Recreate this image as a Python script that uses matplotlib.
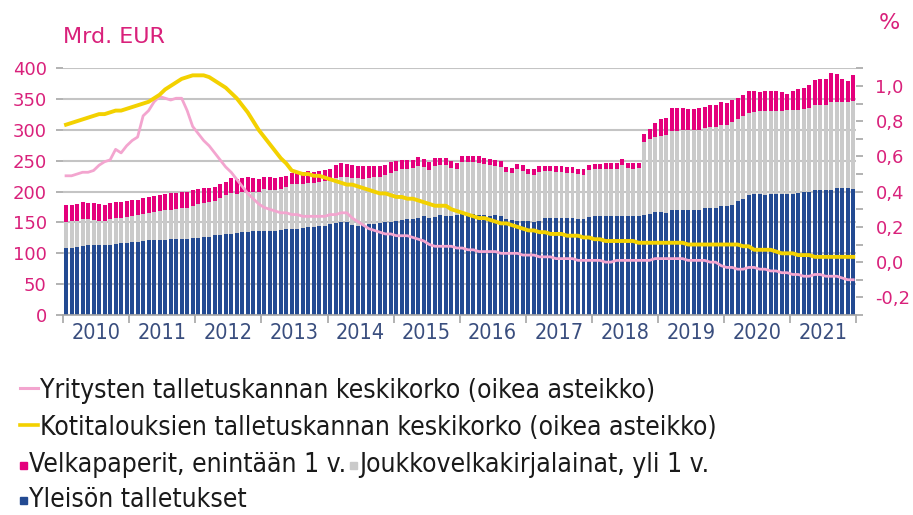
import numpy as np
import matplotlib.pyplot as plt
from matplotlib.lines import Line2D
from matplotlib.patches import Rectangle
from matplotlib.ticker import MultipleLocator, FixedLocator, FuncFormatter

# kuukausittain 1/2010 - 12/2021, mrd. euroa
yleison_talletukset = [
    108, 109, 110, 112, 113, 113, 113, 114, 114, 115, 116, 116,
    118, 119, 120, 121, 121, 122, 122, 123, 123, 124, 124, 125,
    125, 126, 127, 129, 130, 131, 131, 133, 134, 135, 136, 137,
    136, 137, 137, 138, 139, 139, 140, 141, 142, 143, 144, 145,
    147, 149, 151, 150, 146, 145, 146, 147, 148, 149, 150, 151,
    153, 154, 155, 156, 158, 161, 158, 159, 162, 160, 160, 162,
    164, 163, 163, 162, 162, 161, 162, 160, 155, 154, 153, 153,
    152, 150, 153, 157, 158, 158, 158, 158, 157, 156, 156, 159,
    160, 160, 160, 160, 160, 160, 160, 161, 160, 162, 164, 167,
    167, 165, 170, 170, 170, 170, 171, 171, 173, 174, 174, 176,
    177, 178, 185, 188, 195, 197, 196, 195, 196, 196, 196, 197,
    197, 198, 199, 200, 202, 203, 203, 202, 206, 206, 206, 205,
]
joukkovelkakirjat = [
    43, 43, 43, 43, 42, 41, 40, 38, 41, 42, 42, 43,
    43, 43, 43, 44, 46, 47, 48, 48, 49, 49, 50, 52,
    55, 56, 56, 56, 60, 63, 67, 64, 65, 65, 64, 63,
    68, 66, 66, 67, 68, 73, 73, 72, 72, 71, 71, 72,
    71, 73, 72, 73, 76, 77, 75, 75, 75, 75, 77, 80,
    81, 82, 81, 82, 84, 79, 77, 83, 81, 83, 79, 74,
    84, 85, 85, 85, 83, 83, 80, 80, 77, 76, 83, 81,
    76, 77, 79, 76, 75, 74, 74, 73, 74, 72, 71, 76,
    76, 76, 77, 77, 77, 83, 78, 76, 78, 119, 121, 121,
    123, 127, 128, 129, 130, 130, 129, 129, 130, 131, 131, 132,
    131, 135, 133, 135, 133, 132, 134, 135, 134, 135, 135, 135,
    135, 135, 135, 136, 138, 137, 138, 144, 140, 140, 140, 142,
]
velkapaperit = [
    27, 27, 27, 28, 27, 27, 27, 26, 26, 26, 26, 26,
    25, 25, 26, 26, 26, 26, 26, 27, 26, 26, 26, 25,
    24, 24, 23, 23, 22, 22, 24, 23, 23, 23, 22, 21,
    20, 20, 19, 19, 18, 19, 19, 19, 19, 18, 18, 18,
    18, 22, 23, 22, 21, 20, 20, 19, 18, 18, 17, 17,
    16, 15, 15, 14, 14, 13, 13, 12, 12, 11, 11, 10,
    9, 9, 10, 10, 9, 9, 9, 9, 8, 8, 9, 9,
    9, 9, 9, 9, 9, 9, 9, 9, 9, 9, 9, 9,
    9, 9, 9, 9, 10, 10, 9, 9, 9, 13, 16, 23,
    27, 28, 37, 36, 35, 34, 34, 35, 35, 35, 35, 38,
    35, 35, 34, 34, 36, 34, 32, 33, 33, 32, 31, 26,
    32, 33, 34, 37, 41, 42, 41, 47, 45, 36, 34, 42,
]
# %, oikea asteikko
yritysten_korko = [
    0.49, 0.49, 0.50, 0.51, 0.51, 0.52, 0.55, 0.57, 0.58, 0.64, 0.62, 0.66,
    0.69, 0.71, 0.83, 0.86, 0.91, 0.94, 0.93, 0.92, 0.93, 0.93, 0.86, 0.77,
    0.73, 0.69, 0.66, 0.62, 0.58, 0.54, 0.51, 0.47, 0.43, 0.39, 0.36, 0.33,
    0.31, 0.30, 0.29, 0.28, 0.28, 0.27, 0.27, 0.26, 0.26, 0.26, 0.26, 0.26,
    0.27, 0.27, 0.28, 0.28, 0.25, 0.23, 0.21, 0.19, 0.18, 0.17, 0.16, 0.16,
    0.15, 0.15, 0.15, 0.14, 0.13, 0.12, 0.10, 0.09, 0.09, 0.09, 0.09, 0.08,
    0.08, 0.07, 0.07, 0.06, 0.06, 0.06, 0.06, 0.05, 0.05, 0.05, 0.05, 0.04,
    0.04, 0.04, 0.03, 0.03, 0.03, 0.02, 0.02, 0.02, 0.02, 0.01, 0.01, 0.01,
    0.01, 0.01, 0.00, 0.00, 0.01, 0.01, 0.01, 0.01, 0.01, 0.01, 0.01, 0.02,
    0.02, 0.02, 0.02, 0.02, 0.02, 0.01, 0.01, 0.01, 0.01, 0.00, 0.00, -0.02,
    -0.03, -0.03, -0.04, -0.04, -0.03, -0.03, -0.04, -0.04, -0.05, -0.05, -0.06, -0.06,
    -0.07, -0.07, -0.08, -0.08, -0.07, -0.07, -0.08, -0.08, -0.08, -0.09, -0.10, -0.10,
]
kotitalouksien_korko = [
    0.78, 0.79, 0.80, 0.81, 0.82, 0.83, 0.84, 0.84, 0.85, 0.86, 0.86, 0.87,
    0.88, 0.89, 0.90, 0.91, 0.93, 0.95, 0.98, 1.00, 1.02, 1.04, 1.05, 1.06,
    1.06, 1.06, 1.05, 1.03, 1.01, 0.99, 0.96, 0.93, 0.89, 0.85, 0.80, 0.75,
    0.71, 0.67, 0.63, 0.59, 0.56, 0.52, 0.51, 0.50, 0.50, 0.49, 0.49, 0.48,
    0.47, 0.46, 0.45, 0.44, 0.44, 0.43, 0.42, 0.41, 0.40, 0.39, 0.39, 0.38,
    0.37, 0.37, 0.36, 0.36, 0.35, 0.34, 0.33, 0.32, 0.32, 0.32, 0.30, 0.29,
    0.28, 0.27, 0.26, 0.25, 0.25, 0.24, 0.23, 0.22, 0.22, 0.21, 0.20, 0.19,
    0.18, 0.18, 0.17, 0.17, 0.16, 0.16, 0.16, 0.15, 0.15, 0.15, 0.14, 0.14,
    0.13, 0.13, 0.12, 0.12, 0.12, 0.12, 0.12, 0.12, 0.11, 0.11, 0.11, 0.11,
    0.11, 0.11, 0.11, 0.11, 0.11, 0.10, 0.10, 0.10, 0.10, 0.10, 0.10, 0.10,
    0.10, 0.10, 0.10, 0.09, 0.09, 0.07, 0.07, 0.07, 0.07, 0.06, 0.05, 0.05,
    0.05, 0.04, 0.04, 0.04, 0.03, 0.03, 0.03, 0.03, 0.03, 0.03, 0.03, 0.03,
]
vuodet = [str(v) for v in range(2010, 2022)]

sininen = '#234a92'
harmaa = '#cacaca'
magenta = '#e4007c'
keltainen = '#f3d100'
vaaleanpun = '#f3a5cf'
pun_teksti = '#d9217b'
x_teksti = '#3a4e7e'

W, H = 913, 515
fig = plt.figure(figsize=(W / 100, H / 100), dpi=100)


def fx(x):
    return x / W


def fy(y):
    return 1 - y / H


ax = fig.add_axes([fx(63.3), fy(315), fx(856) - fx(63.3), fy(68.3) - fy(315)])

n = len(yleison_talletukset)
x = np.arange(n) + 0.5
b1 = np.array(yleison_talletukset)
b2 = np.array(joukkovelkakirjat)
b3 = np.array(velkapaperit)
ax.bar(x, b1, width=0.72, color=sininen, zorder=2)
ax.bar(x, b2, bottom=b1, width=0.72, color=harmaa, zorder=2)
ax.bar(x, b3, bottom=b1 + b2, width=0.72, color=magenta, zorder=2)

ax.set_xlim(0, n)
ax.set_ylim(0, 400)
ax.yaxis.set_major_locator(MultipleLocator(50))
ax.yaxis.grid(True, color='#c4c4c4', lw=1.5, zorder=0)
ax.set_axisbelow(True)
for s in ['top', 'right', 'left']:
    ax.spines[s].set_visible(False)
ax.spines['bottom'].set_color('#a6a6a6')
ax.spines['bottom'].set_linewidth(1.2)
ax.tick_params(axis='y', colors='#a6a6a6', labelcolor=pun_teksti, length=5,
               width=1.2, pad=7, labelsize=13)
ax.xaxis.set_major_locator(FixedLocator(np.arange(0, n + 1, 12)))
ax.xaxis.set_minor_locator(FixedLocator(np.arange(6, n, 12)))
ax.xaxis.set_major_formatter(FuncFormatter(lambda v, p: ''))
ax.xaxis.set_minor_formatter(FuncFormatter(lambda v, p: vuodet[int(v) // 12]))
ax.tick_params(axis='x', which='major', length=6, width=1.2, color='#a6a6a6')
ax.tick_params(axis='x', which='minor', length=0, pad=6, labelsize=15.5,
               labelcolor=x_teksti)
for t in ax.xaxis.get_minorticklabels():
    t.set_fontstretch('condensed')

ax2 = ax.twinx()
ax2.plot(x, yritysten_korko, color=vaaleanpun, lw=2.0, zorder=3)
ax2.plot(x, kotitalouksien_korko, color=keltainen, lw=2.8, zorder=4)
ax2.set_ylim(-0.3, 1.1)
ax2.yaxis.set_major_locator(FixedLocator([-0.2, 0.0, 0.2, 0.4, 0.6, 0.8, 1.0]))
ax2.yaxis.set_minor_locator(FixedLocator([-0.3, -0.1, 0.1, 0.3, 0.5, 0.7, 0.9, 1.1]))
ax2.yaxis.set_major_formatter(FuncFormatter(lambda v, p: f'{v:.1f}'.replace('.', ',').replace('-0,0', '0,0')))
ax2.tick_params(axis='y', which='both', colors='#a6a6a6', labelcolor=pun_teksti,
                length=5, width=1.2, pad=9, labelsize=13)
for s in ax2.spines.values():
    s.set_visible(False)

fig.text(fx(63), fy(43), 'Mrd. EUR', color=pun_teksti, fontsize=16,
         ha='left', va='baseline')
fig.text(fx(879), fy(29), '%', color=pun_teksti, fontsize=16,
         ha='left', va='baseline')

# selite
selite = dict(fontsize=19, fontstretch='condensed', va='baseline', color='#1a1a1a')
rivit = [398, 435, 472, 507]
fig.add_artist(Line2D([fx(20), fx(38)], [fy(388), fy(388)], color=vaaleanpun, lw=2.2))
fig.text(fx(40), fy(rivit[0]), 'Yritysten talletuskannan keskikorko (oikea asteikko)', **selite)
fig.add_artist(Line2D([fx(20), fx(38)], [fy(425), fy(425)], color=keltainen, lw=2.6))
fig.text(fx(40), fy(rivit[1]), 'Kotitalouksien talletuskannan keskikorko (oikea asteikko)', **selite)
fig.add_artist(Rectangle((fx(20), fy(469)), fx(7), fy(0) - fy(7), color=magenta,
                         transform=fig.transFigure))
t3 = fig.text(fx(29), fy(rivit[2]), 'Velkapaperit, enintään 1 v.', **selite)
fig.canvas.draw()
loppu = t3.get_window_extent().x1
fig.add_artist(Rectangle((fx(loppu + 4), fy(469)), fx(7), fy(0) - fy(7), color=harmaa,
                         transform=fig.transFigure))
fig.text(fx(loppu + 13), fy(rivit[2]), 'Joukkovelkakirjalainat, yli 1 v.', **selite)
fig.add_artist(Rectangle((fx(20), fy(504)), fx(7), fy(0) - fy(7), color=sininen,
                         transform=fig.transFigure))
fig.text(fx(29), fy(rivit[3]), 'Yleisön talletukset', **selite)

fig.savefig('out.png', dpi=100)
